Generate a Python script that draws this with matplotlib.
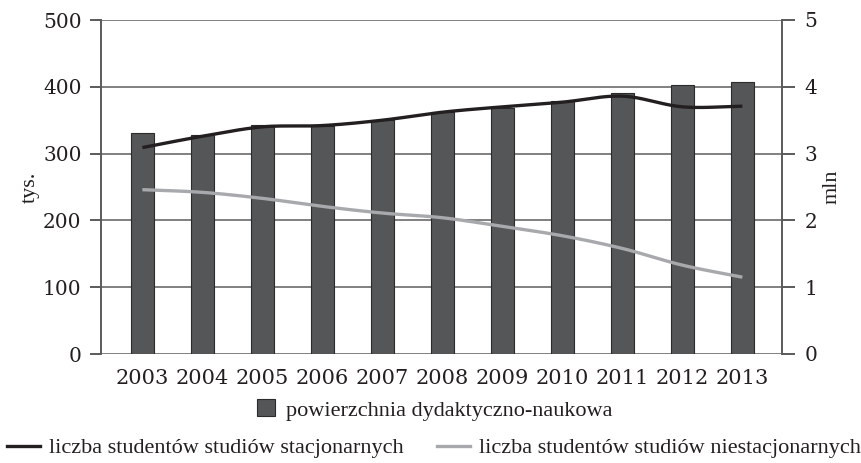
import numpy as np
import matplotlib
matplotlib.use("Agg")
import matplotlib.pyplot as plt
from matplotlib.patches import Patch
from matplotlib.lines import Line2D

years = ["2003", "2004", "2005", "2006", "2007", "2008", "2009", "2010", "2011", "2012", "2013"]
# powierzchnia dydaktyczno-naukowa, mln m2 (right axis)
area_mln = [3.31, 3.28, 3.43, 3.42, 3.51, 3.63, 3.69, 3.78, 3.90, 4.02, 4.07]
# liczba studentów, tys. (left axis)
stacjonarne_tys = [309, 326, 340, 342, 350, 362, 370, 377, 386, 370, 371]
niestacjonarne_tys = [246, 242, 233, 221, 211, 204, 191, 177, 158, 133, 115]

BAR_COLOR = "#555657"
BAR_EDGE = "#2b2b2b"
DARK_LINE = "#231f20"
LIGHT_LINE = "#a7a9ac"
GRID = "#808080"
AXIS = "#5a5a5a"
TEXT = "#231f20"

SERIF = ["DejaVu Serif"]
LEGEND_FONT = ["Liberation Serif", "DejaVu Serif"]


def smooth(x, y, n=20):
    """Catmull-Rom curve through the points, for a softly rounded line."""
    x = np.asarray(x, float)
    y = np.asarray(y, float)
    px = np.concatenate([[2 * x[0] - x[1]], x, [2 * x[-1] - x[-2]]])
    py = np.concatenate([[2 * y[0] - y[1]], y, [2 * y[-1] - y[-2]]])
    xs, ys = [], []
    t = np.linspace(0, 1, n, endpoint=False)
    for i in range(1, len(px) - 2):
        for arr, out in ((px, xs), (py, ys)):
            p0, p1, p2, p3 = arr[i - 1], arr[i], arr[i + 1], arr[i + 2]
            out.extend(0.5 * ((2 * p1) + (-p0 + p2) * t
                              + (2 * p0 - 5 * p1 + 4 * p2 - p3) * t ** 2
                              + (-p0 + 3 * p1 - 3 * p2 + p3) * t ** 3))
    xs.append(x[-1])
    ys.append(y[-1])
    return np.array(xs), np.array(ys)


W, H = 861, 463
fig = plt.figure(figsize=(W / 100, H / 100), dpi=100)
fig.patch.set_facecolor("white")

left_px, right_px, top_px, bottom_px = 101, 782, 20, 354
ax = fig.add_axes([left_px / W, 1 - bottom_px / H,
                   (right_px - left_px) / W, (bottom_px - top_px) / H])
ax2 = ax.twinx()

# bars + grid on the right (mln) axis, kept underneath the lines
ax2.set_zorder(1)
ax.set_zorder(2)
ax.patch.set_visible(False)

x = np.arange(len(years))
ax2.bar(x, area_mln, width=0.38, color=BAR_COLOR, edgecolor=BAR_EDGE,
        linewidth=0.8, zorder=3)
ax2.set_ylim(0, 5)
ax2.set_yticks(range(0, 6))
ax2.grid(axis="y", color=GRID, linewidth=1.4, zorder=0)
ax2.set_axisbelow(True)

sx, sy = smooth(x, stacjonarne_tys)
ax.plot(sx, sy, color=DARK_LINE, linewidth=2.4, solid_capstyle="butt")
nx, ny = smooth(x, niestacjonarne_tys)
ax.plot(nx, ny, color=LIGHT_LINE, linewidth=2.4, solid_capstyle="butt")
ax.set_ylim(0, 500)
ax.set_yticks(range(0, 501, 100))
ax.set_xlim(-0.69, 10.66)
ax.set_xticks(x)
ax.set_xticklabels(years)

for a in (ax, ax2):
    for side in ("top", "bottom"):
        a.spines[side].set_visible(False)
ax.spines["right"].set_visible(False)
ax2.spines["left"].set_visible(False)
ax.spines["left"].set_color(AXIS)
ax.spines["left"].set_linewidth(1.4)
ax2.spines["right"].set_color(AXIS)
ax2.spines["right"].set_linewidth(1.4)

ax.tick_params(axis="y", direction="out", length=8, width=1.4, color=AXIS,
               labelsize=14.5, labelcolor=TEXT, pad=6)
ax2.tick_params(axis="y", direction="out", length=9, width=1.4, color=AXIS,
                labelsize=14.5, labelcolor=TEXT, pad=7)
ax.tick_params(axis="x", length=0, labelsize=15, labelcolor=TEXT, pad=11)
for lab in ax.get_yticklabels() + ax2.get_yticklabels() + ax.get_xticklabels():
    lab.set_fontfamily(SERIF)

ax.set_ylabel("tys.", fontsize=16, family=LEGEND_FONT, color=TEXT, labelpad=2)
ax2.set_ylabel("mln", fontsize=16, family=LEGEND_FONT, color=TEXT, labelpad=4)

# legend: bar entry on the first row, the two lines below it
leg1 = fig.legend(handles=[Patch(facecolor=BAR_COLOR, edgecolor=BAR_EDGE, linewidth=0.8)],
                  labels=["powierzchnia dydaktyczno-naukowa"],
                  loc="center", bbox_to_anchor=(435 / W, 1 - 410 / H),
                  frameon=False, handlelength=0.8, handleheight=0.8,
                  handletextpad=0.5,
                  prop={"family": LEGEND_FONT, "size": 16})
leg2 = fig.legend(handles=[Line2D([], [], color=DARK_LINE, linewidth=2.4),
                           Line2D([], [], color=LIGHT_LINE, linewidth=2.4)],
                  labels=["liczba studentów studiów stacjonarnych",
                          "liczba studentów studiów niestacjonarnych"],
                  loc="center", bbox_to_anchor=(434 / W, 1 - 448 / H),
                  ncol=2, frameon=False, handlelength=1.5, handletextpad=0.4,
                  columnspacing=1.5, borderpad=0.0, borderaxespad=0.0,
                  prop={"family": LEGEND_FONT, "size": 16})
for leg in (leg1, leg2):
    for t in leg.get_texts():
        t.set_color(TEXT)

fig.savefig("out.png", dpi=100, facecolor="white")
